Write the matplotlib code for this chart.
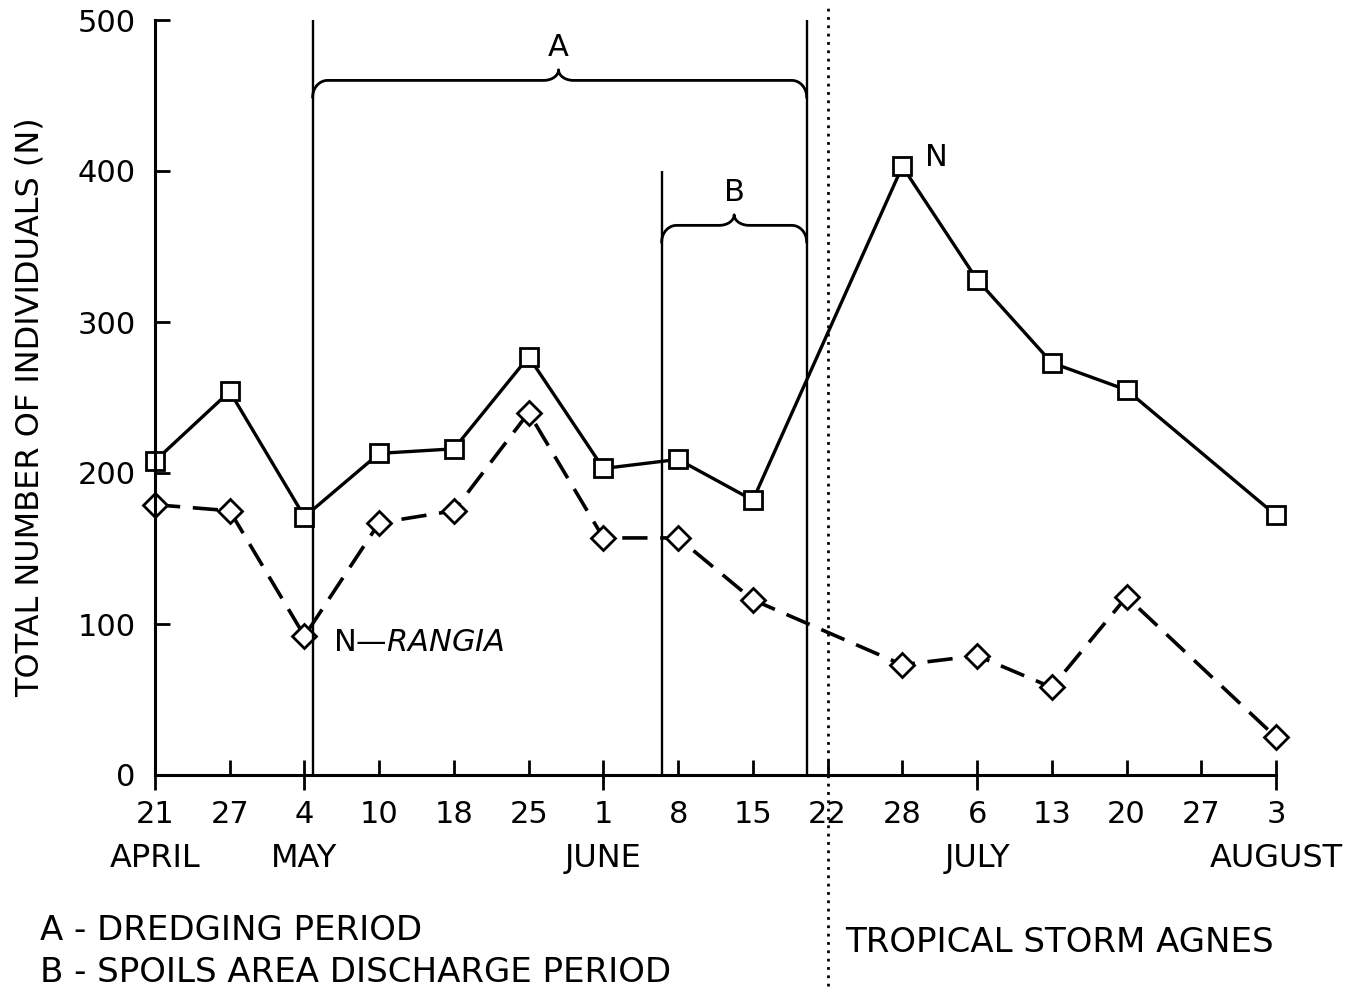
import matplotlib
matplotlib.use("Agg")
import matplotlib.pyplot as plt
import matplotlib.transforms as mtransforms
import numpy as np

# Sampling dates (equally spaced on the axis)
date_labels = ['21', '27', '4', '10', '18', '25', '1', '8', '15', '22',
               '28', '6', '13', '20', '27', '3']
months = ['APRIL', 'MAY', 'JUNE', 'JULY', 'AUGUST']
month_pos = [0, 2, 6, 11, 15]

# Total individuals N (squares) and N-Rangia (diamonds)
sample_idx = [0, 1, 2, 3, 4, 5, 6, 7, 8, 10, 11, 12, 13, 15]
n_total = [208, 254, 171, 213, 216, 277, 203, 209, 182, 403, 328, 273, 255, 172]
n_rangia = [179, 175, 92, 167, 175, 240, 157, 157, 116, 73, 79, 58, 118, 25]

# Dredging (A) and spoils discharge (B) periods, storm date
period_a = (2.11, 8.72)
period_b = (6.78, 8.72)
storm_x = 9

plt.rcParams['font.family'] = ['DejaVu Sans']
FS = 23
FS_NUM = 22
FS_NOTE = 24.5

fig = plt.figure(figsize=(13.51, 9.93), dpi=100)
ax = fig.add_axes([155/1351, 1 - 775/993, 1121/1351, 755/993])

ax.plot(sample_idx, n_total, '-', color='black', lw=2.4, marker='s', ms=13.5,
        mfc='white', mec='black', mew=2.0, zorder=3, clip_on=False)
ax.plot(sample_idx, n_rangia, color='black', lw=2.6, dashes=(7, 3.5),
        marker='D', ms=12.5, mfc='white', mec='black', mew=2.0, zorder=3,
        clip_on=False)

# period boundaries
ax.vlines([period_a[0], period_a[1]], 0, 500, color='black', lw=1.7, zorder=4)
ax.vlines(period_b[0], 0, 400, color='black', lw=1.7, zorder=4)

# storm marker runs past the axes
trans = mtransforms.blended_transform_factory(ax.transData, ax.transAxes)
ax.plot([storm_x, storm_x], [-0.28, 1.02], transform=trans, color='black',
        lw=2.0, linestyle=(0, (1, 2)), clip_on=False, zorder=4)


def brace(ax, x0, x1, xm, y, h_end, h_mid, d=0.2):
    t = np.linspace(0, np.pi / 2, 20)
    # left end curling down, then flat, then rising to the middle tip
    xs = list(x0 + d * (1 - np.cos(t)))
    ys = list(y - h_end + h_end * np.sin(t))
    xs += list(xm - d + d * np.sin(t))
    ys += list(y + h_mid * (1 - np.cos(t)))
    xs += list(xm + d - d * np.sin(t[::-1]))
    ys += list(y + h_mid * (1 - np.cos(t[::-1])))
    xs += list(x1 - d * (1 - np.cos(t[::-1])))
    ys += list(y - h_end + h_end * np.sin(t[::-1]))
    ax.plot(xs, ys, color='black', lw=2.0, zorder=4, clip_on=False)


brace(ax, period_a[0], period_a[1], 5.4, 460, 11, 7)
brace(ax, period_b[0], period_b[1], 7.75, 364, 11, 7)
ax.text(5.4, 482, 'A', ha='center', va='center', fontsize=FS - 1)
ax.text(7.75, 386, 'B', ha='center', va='center', fontsize=FS - 1)

ax.text(10.3, 409, 'N', ha='left', va='center', fontsize=FS - 1)
ax.text(2.38, 88, 'N—$\\mathit{RANGIA}$', ha='left', va='center', fontsize=FS - 1)

ax.set_xlim(0, 15)
ax.set_ylim(0, 500)
ax.set_xticks(range(len(date_labels)))
ax.set_xticklabels(date_labels)
ax.set_xticks(month_pos, minor=True)
ax.xaxis.remove_overlapping_locs = False
ax.set_yticks([0, 100, 200, 300, 400, 500])

ax.tick_params(axis='x', which='major', direction='in', length=11, width=2,
               labelsize=FS_NUM, pad=18)
ax.tick_params(axis='x', which='minor', direction='out', length=11, width=2)
ax.tick_params(axis='y', direction='in', length=11, width=2, labelsize=FS_NUM,
               pad=14)

for side in ['top', 'right']:
    ax.spines[side].set_visible(False)
for side in ['left', 'bottom']:
    ax.spines[side].set_linewidth(2.2)
    ax.spines[side].set_zorder(5)

for m, p in zip(months, month_pos):
    ax.text(p, -0.110, m, transform=trans, ha='center', va='center', fontsize=FS)

fig.text(30/1351, 1 - 407/993, 'TOTAL NUMBER OF INDIVIDUALS (N)', rotation=90,
         ha='center', va='center', fontsize=FS)
fig.text(40/1351, 1 - 930/993, 'A - DREDGING PERIOD', ha='left', va='center',
         fontsize=FS_NOTE)
fig.text(40/1351, 1 - 972/993, 'B - SPOILS AREA DISCHARGE PERIOD', ha='left',
         va='center', fontsize=FS_NOTE)
fig.text(845/1351, 1 - 942/993, 'TROPICAL STORM AGNES', ha='left', va='center',
         fontsize=FS_NOTE)

fig.savefig('out.png', dpi=100)
